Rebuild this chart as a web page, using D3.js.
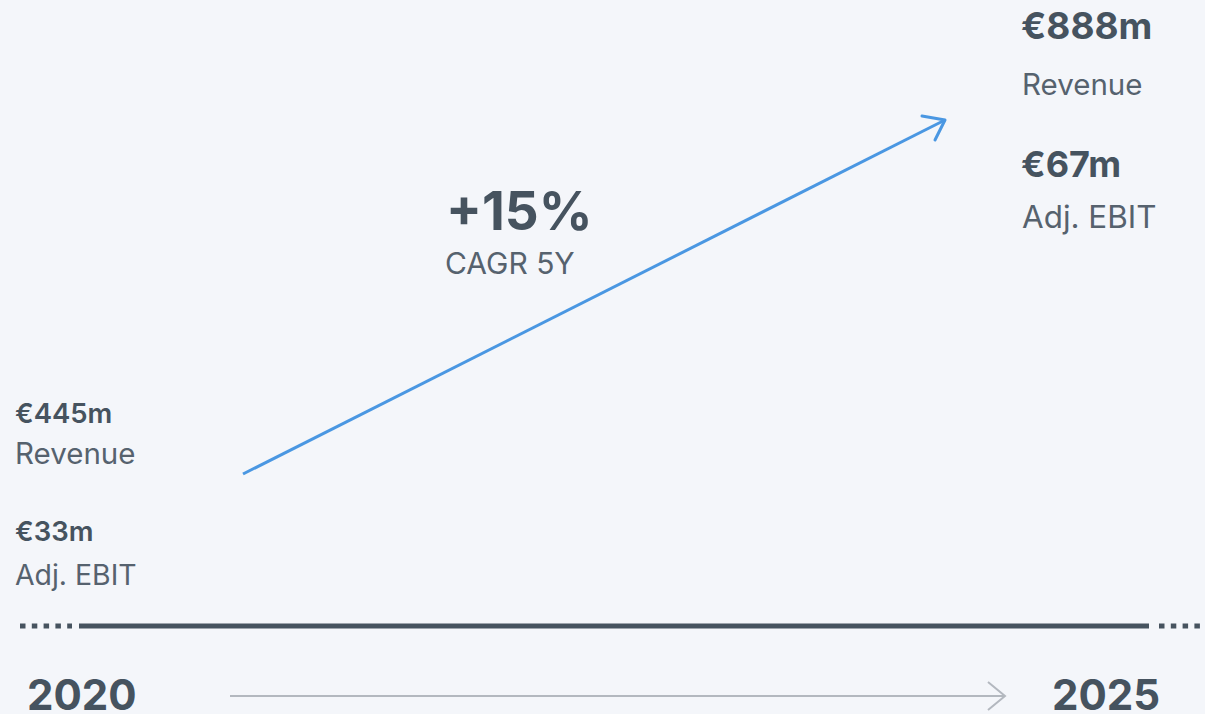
<!DOCTYPE html>
<html>
<head>
<meta charset="utf-8">
<script src="https://cdn.jsdelivr.net/npm/d3@7"></script>
<style>
  html, body { margin: 0; padding: 0; background: #f4f6fa; }
  svg { display: block; font-family: Inter, "Noto Sans", sans-serif; }
</style>
</head>
<body>
<div id="chart"></div>
<script>
const years = ["2020", "2025"]
const revenue = [445, 888]
const adjEbit = [33, 67]
const cagr = 15
const cagrLabel = "CAGR 5Y"

const width = 1205
const height = 714
const dark = "#46535f"
const soft = "#56626e"
const blue = "#4a97e2"

const svg = d3.select('#chart')
    .append('svg')
    .attr('width', width)
    .attr('height', height)

svg.append("rect")
    .attr("width", width)
    .attr("height", height)
    .attr("fill", "#f4f6fa")

// growth arrow, revenue mapped to height
const xArrow = d3.scalePoint().domain(years).range([243, 945])
const yArrow = d3.scaleLinear().domain(d3.extent(revenue)).range([474, 120])

const pts = years.map((y, i) => [xArrow(y), yArrow(revenue[i])])
svg.append("path")
    .attr("d", d3.line()(pts))
    .attr("stroke", blue)
    .attr("stroke-width", 3)
    .attr("fill", "none")

const tip = pts[1]
svg.append("path")
    .attr("d", d3.line()([[tip[0] - 23, tip[1] - 4], tip, [tip[0] - 10, tip[1] + 20]]))
    .attr("stroke", blue)
    .attr("stroke-width", 3)
    .attr("stroke-linecap", "round")
    .attr("stroke-linejoin", "round")
    .attr("fill", "none")

// timeline
const axisY = 626
svg.append("line")
    .attr("x1", 20).attr("x2", 72)
    .attr("y1", axisY).attr("y2", axisY)
    .attr("stroke", dark)
    .attr("stroke-width", 5)
    .attr("stroke-dasharray", "5.5 6.3")
svg.append("line")
    .attr("x1", 79).attr("x2", 1149)
    .attr("y1", axisY).attr("y2", axisY)
    .attr("stroke", dark)
    .attr("stroke-width", 5)
svg.append("line")
    .attr("x1", 1159).attr("x2", 1205)
    .attr("y1", axisY).attr("y2", axisY)
    .attr("stroke", dark)
    .attr("stroke-width", 5)
    .attr("stroke-dasharray", "5.5 6.3")

// year labels
const xYear = d3.scalePoint().domain(years).range([27, 1052])
svg.selectAll("text.year")
    .data(years)
    .join("text")
    .attr("class", "year")
    .attr("x", d => xYear(d))
    .attr("y", 710)
    .attr("fill", dark)
    .attr("font-size", 42)
    .attr("font-weight", 700)
    .text(d => d)

// thin time arrow
const ay = 696
svg.append("line")
    .attr("x1", 230).attr("x2", 1005)
    .attr("y1", ay).attr("y2", ay)
    .attr("stroke", "#b3b8bf")
    .attr("stroke-width", 2)
svg.append("path")
    .attr("d", d3.line()([[988, ay - 14], [1005, ay], [988, ay + 14]]))
    .attr("stroke", "#b3b8bf")
    .attr("stroke-width", 2)
    .attr("fill", "none")

// start values
const start = svg.append("g")
start.append("text").attr("x", 15).attr("y", 423)
    .attr("fill", dark).attr("font-size", 27.5).attr("font-weight", 600)
    .text(`€${revenue[0]}m`)
start.append("text").attr("x", 15).attr("y", 464)
    .attr("fill", soft).attr("font-size", 29.5).attr("font-weight", 400)
    .text("Revenue")
start.append("text").attr("x", 15).attr("y", 585)
    .attr("fill", dark).attr("font-size", 27.5).attr("font-weight", 600)
    .attr("y", 541)
    .text(`€${adjEbit[0]}m`)
start.append("text").attr("x", 15).attr("y", 585)
    .attr("fill", soft).attr("font-size", 28.4).attr("font-weight", 400)
    .text("Adj. EBIT")

// end values
const end = svg.append("g")
end.append("text").attr("x", 1021).attr("y", 39)
    .attr("fill", dark).attr("font-size", 37).attr("font-weight", 700)
    .text(`€${revenue[1]}m`)
end.append("text").attr("x", 1022).attr("y", 95)
    .attr("fill", soft).attr("font-size", 29.5).attr("font-weight", 400)
    .text("Revenue")
end.append("text").attr("x", 1021).attr("y", 177)
    .attr("fill", dark).attr("font-size", 36).attr("font-weight", 700)
    .text(`€${adjEbit[1]}m`)
end.append("text").attr("x", 1022).attr("y", 228)
    .attr("fill", soft).attr("font-size", 31.4).attr("font-weight", 400)
    .text("Adj. EBIT")

// CAGR
svg.append("text").attr("x", 446).attr("y", 230)
    .attr("fill", dark).attr("font-size", 53).attr("font-weight", 700)
    .text(`+${cagr}%`)
svg.append("text").attr("x", 445).attr("y", 274)
    .attr("fill", soft).attr("font-size", 30).attr("font-weight", 400)
    .text(cagrLabel)
</script>
</body>
</html>
